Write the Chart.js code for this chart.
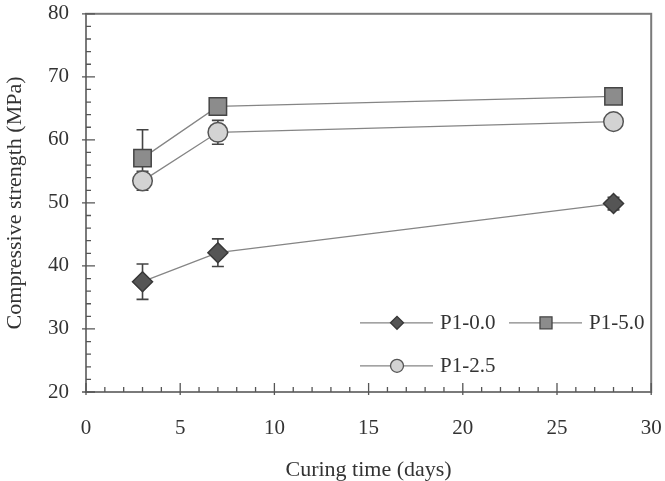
<!DOCTYPE html>
<html><head><meta charset="utf-8">
<script src="https://cdn.jsdelivr.net/npm/chart.js@4/dist/chart.umd.min.js"></script>
<style>html,body{margin:0;padding:0;background:#fff}#wrap{width:665px;height:481px}</style>
</head><body><div id="wrap"><canvas id="c" width="665" height="481"></canvas></div>
<script>
const days = [3, 7, 28];
const p00 = [37.5, 42.1, 49.9];
const p00Err = [2.8, 2.2, 1.0];
const p50 = [57.1, 65.3, 66.9];
const p50Err = [4.5, 1.0, 1.0];
const p25 = [53.5, 61.2, 62.9];
const p25Err = [1.5, 1.9, 0.8];
const xTicks = [0, 5, 10, 15, 20, 25, 30];
const yTicks = [20, 30, 40, 50, 60, 70, 80];
const seriesNames = ['P1-0.0', 'P1-5.0', 'P1-2.5'];

const FONT = 'Liberation Serif';
const styles = [
  {shape: 'rectRot', r: 10, lr: 6.5, fill: '#555555', border: '#383838'},
  {shape: 'rect', r: 12.3, lr: 8.5, fill: '#8c8c8c', border: '#454545'},
  {shape: 'circle', r: 9.8, lr: 6.5, fill: '#d3d3d3', border: '#555555'}
];
const values = [p00, p50, p25];
const errs = [p00Err, p50Err, p25Err];

function mk(i) {
  return {
    label: seriesNames[i],
    data: days.map((d, k) => ({x: d, y: values[i][k]})),
    errors: errs[i],
    borderColor: '#858585',
    borderWidth: 1.3,
    pointStyle: styles[i].shape,
    pointRadius: styles[i].r,
    pointHoverRadius: styles[i].r,
    pointBackgroundColor: styles[i].fill,
    pointBorderColor: styles[i].border,
    pointBorderWidth: 1.5,
    showLine: true,
    tension: 0
  };
}

const errorBars = {
  id: 'errorBars',
  beforeDatasetsDraw(chart) {
    const {ctx, scales: {x, y}} = chart;
    ctx.save();
    ctx.strokeStyle = '#444';
    ctx.lineWidth = 1.6;
    chart.data.datasets.forEach(ds => {
      ds.data.forEach((p, k) => {
        const e = ds.errors[k];
        const px = x.getPixelForValue(p.x);
        const t = y.getPixelForValue(p.y + e), b = y.getPixelForValue(p.y - e);
        ctx.beginPath();
        ctx.moveTo(px, t); ctx.lineTo(px, b);
        ctx.moveTo(px - 6, t); ctx.lineTo(px + 6, t);
        ctx.moveTo(px - 6, b); ctx.lineTo(px + 6, b);
        ctx.stroke();
      });
    });
    ctx.restore();
  }
};

const frame = {
  id: 'frame',
  afterDraw(chart) {
    const {ctx, chartArea: a, scales: {x, y}} = chart;
    ctx.save();
    ctx.strokeStyle = '#7a7a7a';
    ctx.lineWidth = 2;
    ctx.strokeRect(a.left, a.top, a.right - a.left, a.bottom - a.top);
    ctx.strokeStyle = '#555';
    ctx.lineWidth = 1.3;
    ctx.beginPath();
    for (let v = x.min; v <= x.max; v += 1) {
      const px = x.getPixelForValue(v);
      const major = v % 5 === 0;
      ctx.moveTo(px, a.bottom + (major ? 3 : 0));
      ctx.lineTo(px, a.bottom - (major ? 9 : 5));
    }
    for (let v = y.min; v <= y.max; v += 2) {
      const py = y.getPixelForValue(v);
      const major = v % 10 === 0;
      ctx.moveTo(a.left - (major ? 4 : 0), py);
      ctx.lineTo(a.left + (major ? 9 : 5), py);
    }
    ctx.stroke();

    // legend
    const rows = [
      {i: 0, lx: a.left + 274, ly: a.top + 309},
      {i: 1, lx: a.left + 423, ly: a.top + 309},
      {i: 2, lx: a.left + 274, ly: a.top + 352}
    ];
    rows.forEach(r => {
      const s = styles[r.i];
      ctx.strokeStyle = '#858585';
      ctx.lineWidth = 1.3;
      ctx.beginPath();
      ctx.moveTo(r.lx, r.ly); ctx.lineTo(r.lx + 73, r.ly);
      ctx.stroke();
      ctx.fillStyle = s.fill;
      ctx.strokeStyle = s.border;
      ctx.lineWidth = 1.3;
      Chart.helpers.drawPoint(ctx, {pointStyle: s.shape, radius: s.lr, borderWidth: 1.3, rotation: 0}, r.lx + 37, r.ly);
      ctx.fillStyle = '#333';
      ctx.font = '21px "' + FONT + '"';
      ctx.textBaseline = 'middle';
      ctx.textAlign = 'left';
      ctx.fillText(seriesNames[r.i], r.lx + 80, r.ly + 1);
    });
    ctx.restore();
  }
};

function zeroPad(s) { s.paddingLeft = 0; s.paddingRight = 0; s.paddingTop = 0; s.paddingBottom = 0; }

new Chart(document.getElementById('c'), {
  type: 'scatter',
  data: {datasets: [0, 1, 2].map(mk)},
  plugins: [errorBars, frame],
  options: {
    responsive: false,
    animation: false,
    layout: {padding: {top: 11, right: 13, left: 0, bottom: 0}},
    plugins: {legend: {display: false}, tooltip: {enabled: false}},
    scales: {
      x: {
        type: 'linear', min: 0, max: 30,
        afterBuildTicks: s => { s.ticks = xTicks.map(v => ({value: v})); },
        afterFit: s => { s.height = 89; zeroPad(s); },
        grid: {display: false, drawTicks: false},
        border: {display: false},
        ticks: {color: '#333', font: {family: FONT, size: 21}, padding: 24, maxRotation: 0},
        title: {display: true, text: 'Curing time (days)', color: '#333', font: {family: FONT, size: 22, lineHeight: 1}, padding: {top: 0, bottom: 0}}
      },
      y: {
        type: 'linear', min: 20, max: 80,
        afterBuildTicks: s => { s.ticks = yTicks.map(v => ({value: v})); },
        afterFit: s => { s.width = 86; zeroPad(s); },
        grid: {display: false, drawTicks: false},
        border: {display: false},
        ticks: {color: '#333', font: {family: FONT, size: 21}, padding: 17},
        title: {display: true, text: 'Compressive strength (MPa)', color: '#333', font: {family: FONT, size: 22, lineHeight: 1}, padding: {top: 4, bottom: 0}}
      }
    }
  }
});
</script>
</body></html>
